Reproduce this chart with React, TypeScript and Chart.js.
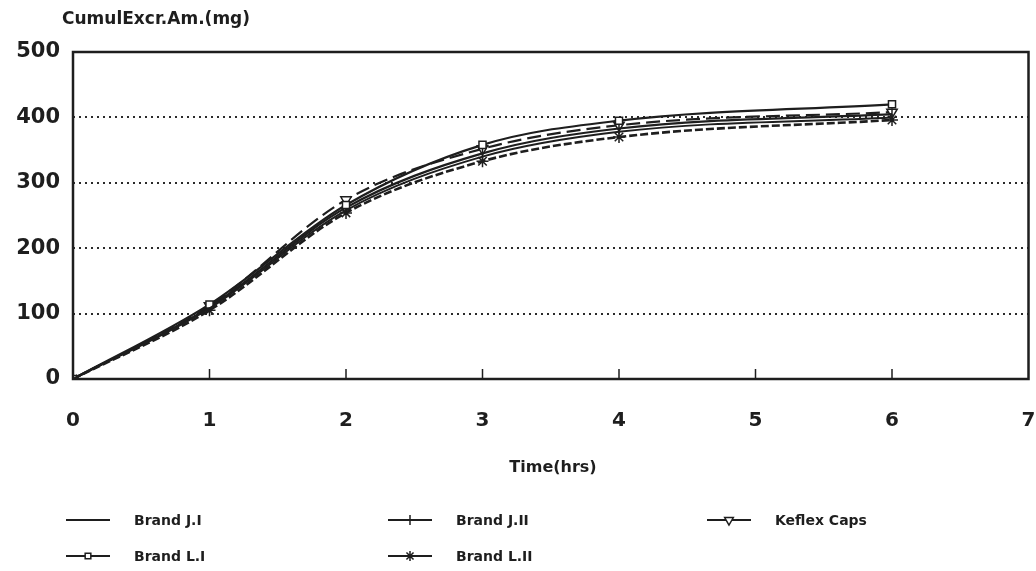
import React, { useEffect, useRef } from 'react';
import { Chart, registerables } from 'chart.js';
import { drawPoint } from 'chart.js/helpers';

Chart.register(...registerables);

// ---- data ----
const times = [0, 1, 2, 3, 4, 6];
const brandJI = [0, 108, 258, 340, 378, 400];
const brandLI = [0, 114, 266, 358, 395, 420];
const brandJII = [0, 110, 262, 345, 383, 405];
const brandLII = [0, 105, 254, 333, 370, 396];
const keflexCaps = [0, 112, 274, 352, 388, 408];
const seriesLabels = ['Brand J.I', 'Brand L.I', 'Brand J.II', 'Brand L.II', 'Keflex Caps'];
const xTickValues = [0, 1, 2, 3, 4, 5, 6, 7];
const yTickValues = [0, 100, 200, 300, 400, 500];
const yTitle = 'CumulExcr.Am.(mg)';
const xTitle = 'Time(hrs)';

const FONT = '"DejaVu Sans", "Liberation Sans", Arial, sans-serif';
const INK = '#1e1e1e';

const toPoints = (ys: number[]) => times.map((t, i) => ({ x: t, y: ys[i] }));

const framePlugin = {
  id: 'frameAndText',
  afterDatasetsDraw(chart: any) {
    const { ctx, chartArea, scales } = chart;
    ctx.save();
    // frame
    ctx.strokeStyle = INK;
    ctx.lineWidth = 2.5;
    ctx.setLineDash([]);
    ctx.strokeRect(chartArea.left, chartArea.top, chartArea.right - chartArea.left, chartArea.bottom - chartArea.top);
    // inward x ticks
    ctx.lineWidth = 1.5;
    xTickValues.forEach((v) => {
      if (v === 0 || v === 7) return;
      const px = scales.x.getPixelForValue(v);
      ctx.beginPath();
      ctx.moveTo(px, chartArea.bottom);
      ctx.lineTo(px, chartArea.bottom - 10);
      ctx.stroke();
    });
    // titles
    ctx.fillStyle = INK;
    ctx.font = `bold 17px ${FONT}`;
    ctx.textAlign = 'left';
    ctx.textBaseline = 'middle';
    ctx.fillText(yTitle, 62, 20);
    ctx.textAlign = 'center';
    ctx.font = `bold 16px ${FONT}`;
    ctx.fillText(xTitle, 553, 468);
    // legend
    const colX = [66, 388, 707];
    const rowY = [520, 556];
    ctx.font = `bold 14px ${FONT}`;
    ctx.textAlign = 'left';
    chart.data.datasets.forEach((ds: any, i: number) => {
      const cx = colX[Math.floor(i / 2)];
      const cy = rowY[i % 2];
      ctx.strokeStyle = ds.borderColor;
      ctx.lineWidth = 2;
      ctx.setLineDash([]);
      ctx.beginPath();
      ctx.moveTo(cx, cy);
      ctx.lineTo(cx + 44, cy);
      ctx.stroke();
      if (ds.pointRadius > 0) {
        ctx.fillStyle = ds.pointBackgroundColor;
        ctx.strokeStyle = ds.borderColor;
        ctx.lineWidth = 1.5;
        drawPoint(ctx, { pointStyle: ds.pointStyle, rotation: ds.pointRotation || 0, radius: ds.pointRadius - 1, borderWidth: 1.5 }, cx + 22, cy);
      }
      ctx.fillStyle = INK;
      ctx.fillText(ds.label, cx + 68, cy + 1);
    });
    ctx.restore();
  },
};

export default function App() {
  const ref = useRef<HTMLCanvasElement | null>(null);
  useEffect(() => {
    document.body.style.margin = '0';
    document.body.style.overflow = 'hidden';
    const canvas = ref.current;
    if (!canvas) return;
    const common = {
      borderColor: INK,
      pointBackgroundColor: '#ffffff',
      pointBorderColor: INK,
      pointBorderWidth: 1.5,
      fill: false,
      cubicInterpolationMode: 'monotone' as const,
    };
    const chart = new Chart(canvas, {
      type: 'line',
      data: {
        datasets: [
          { ...common, label: seriesLabels[0], data: toPoints(brandJI), borderWidth: 2, pointRadius: 0, pointStyle: 'line' },
          { ...common, label: seriesLabels[1], data: toPoints(brandLI), borderWidth: 2.2, pointRadius: 5, pointStyle: 'rect' },
          { ...common, label: seriesLabels[2], data: toPoints(brandJII), borderWidth: 2.2, pointRadius: 6, pointStyle: 'line', pointRotation: 90 },
          { ...common, label: seriesLabels[3], data: toPoints(brandLII), borderWidth: 2.6, borderDash: [8, 3], pointRadius: 6, pointStyle: 'star' },
          { ...common, label: seriesLabels[4], data: toPoints(keflexCaps), borderWidth: 2.2, borderDash: [14, 6], pointRadius: 6, pointStyle: 'triangle', pointRotation: 180 },
        ],
      },
      options: {
        responsive: false,
        animation: false,
        layout: { padding: { top: 52, right: 4, left: 0, bottom: 0 } },
        plugins: { legend: { display: false }, tooltip: { enabled: false }, title: { display: false } },
        scales: {
          x: {
            type: 'linear',
            min: 0,
            max: 7,
            afterFit: (s: any) => { s.height = 192; s.paddingLeft = 0; s.paddingRight = 0; },
            afterBuildTicks: (s: any) => { s.ticks = xTickValues.map((v) => ({ value: v })); },
            border: { display: false },
            grid: { display: false, drawTicks: false },
            ticks: { color: INK, font: { family: FONT, size: 20, weight: 'bold' }, padding: 30, maxRotation: 0 },
          },
          y: {
            type: 'linear',
            min: 0,
            max: 500,
            afterFit: (s: any) => { s.width = 73; s.paddingTop = 0; s.paddingBottom = 0; },
            afterBuildTicks: (s: any) => { s.ticks = yTickValues.map((v) => ({ value: v })); },
            border: { display: false, dash: [2, 4] },
            grid: {
              drawTicks: false,
              color: (c: any) => (c.tick && (c.tick.value === 0 || c.tick.value === 500) ? 'rgba(0,0,0,0)' : '#2a2a2a'),
              lineWidth: 2,
            },
            ticks: { color: INK, font: { family: FONT, size: 21, weight: 'bold' }, padding: 13 },
          },
        },
      },
      plugins: [framePlugin],
    } as any);
    return () => chart.destroy();
  }, []);
  return (
    <div style={{ width: 1036, height: 571, background: '#fff' }}>
      <canvas ref={ref} width={1036} height={571} style={{ display: 'block' }} />
    </div>
  );
}
